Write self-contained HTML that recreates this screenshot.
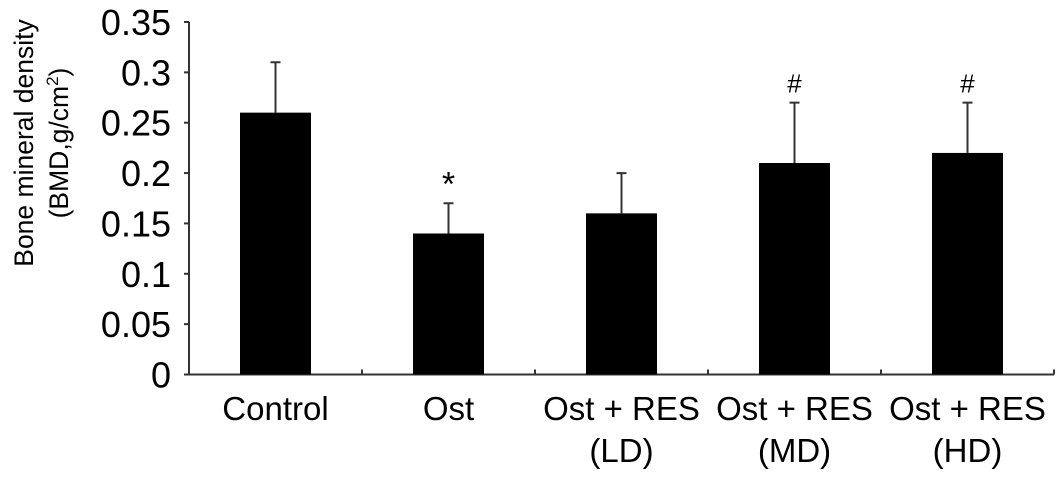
<!DOCTYPE html>
<html><head><meta charset="utf-8"><style>
body{margin:0;background:#fff;width:1064px;height:478px;overflow:hidden}
svg text{font-family:"Liberation Sans",Arial,sans-serif;fill:#000}
</style></head><body>
<svg id="chart" width="1064" height="478" style="position:absolute;left:0;top:0"></svg>
<script>
const categories=["Control","Ost","Ost + RES|(LD)","Ost + RES|(MD)","Ost + RES|(HD)"];
const values=[0.26,0.14,0.16,0.21,0.22];
const errors=[0.05,0.03,0.04,0.06,0.05];
const marks=["","*","","#","#"];
const yTicks=[0,0.05,0.1,0.15,0.2,0.25,0.3,0.35];
const yTickLabels=["0","0.05","0.1","0.15","0.2","0.25","0.3","0.35"];
const svg=document.getElementById('chart');
const NS="http://www.w3.org/2000/svg";
const x0=189,catW=173,y0=374.5,yTop=22,yMax=0.35,barW=71;
const y=v=>y0-(v/yMax)*(y0-yTop);
const cx=i=>x0+catW*(i+0.5);
function mk(t,a){const e=document.createElementNS(NS,t);for(const k in a)e.setAttribute(k,a[k]);svg.appendChild(e);return e;}
let e=mk('line',{x1:x0,y1:yTop,x2:x0,y2:y0,stroke:'#333','stroke-width':2});


e=mk('line',{x1:x0,y1:y0,x2:x0+catW*categories.length,y2:y0,stroke:'#333','stroke-width':2});


yTicks.forEach((t,i)=>{
  const tk=mk('line',{x1:x0-5,y1:y(t),x2:x0,y2:y(t),stroke:'#333','stroke-width':2});
  
  
  const tl=mk('text',{x:x0-18,y:y(t)+13,'text-anchor':'end','font-size':36});
  tl.textContent=yTickLabels[i];
  
  
});
for(let i=1;i<=categories.length;i++){
  const tk=mk('line',{x1:x0+catW*i,y1:y0-5,x2:x0+catW*i,y2:y0,stroke:'#333','stroke-width':2});
  
  
}
categories.forEach((c,i)=>{
  const b=mk('rect',{x:cx(i)-barW/2,y:y(values[i]),width:barW,height:y0-y(values[i]),fill:'#000'});
  
  
  const top=y(values[i]+errors[i]);
  const eb=mk('path',{d:`M${cx(i)},${y(values[i])}V${top}M${cx(i)-5},${top}H${cx(i)+5}`,stroke:'#333','stroke-width':2,fill:'none'});
  
  
  if(marks[i]){
    const m=mk('text',{x:cx(i),y:top-(marks[i]=='*'?8:10),'text-anchor':'middle','font-size':marks[i]=='*'?34:26});
    m.textContent=marks[i];
    
    
  }
  c.split('|').forEach((ln,j)=>{
    const t=mk('text',{x:cx(i),y:420+j*42,'text-anchor':'middle','font-size':33});
    t.textContent=ln;
    
    
  });
});
</script>
<div style="position:absolute;left:0;top:0;width:0;height:0">
<svg width="120" height="478" style="position:absolute;left:0;top:0">
<text transform="translate(33,143) rotate(-90)" text-anchor="middle" font-size="26.5" font-family="Liberation Sans, sans-serif">Bone mineral density</text>
<text transform="translate(68,143) rotate(-90)" text-anchor="middle" font-size="26.5" font-family="Liberation Sans, sans-serif">(BMD,g/cm<tspan font-size="17" dy="-10">2</tspan><tspan dy="10">)</tspan></text>
</svg></div>
</body></html>
